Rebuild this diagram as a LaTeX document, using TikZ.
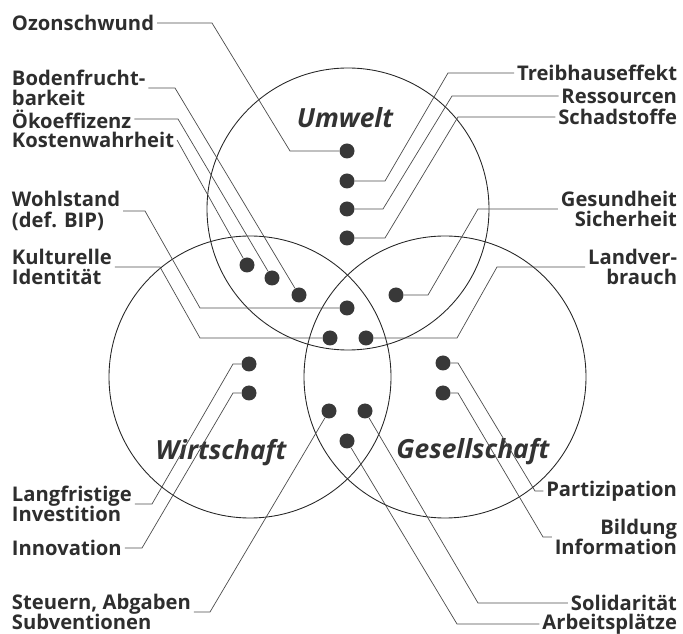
\documentclass[tikz,border=0pt]{standalone}
\usepackage{fontspec}
\setmainfont{Open Sans}

\begin{document}
\begin{tikzpicture}[x=0.02cm, y=-0.02cm,
    spot/.style={circle, fill=black!78, inner sep=0pt, minimum size=3mm},
    lab/.style={font=\bfseries\fontsize{11.5}{11.8}\selectfont, text=black!82, inner sep=1.5pt},
    labl/.style={lab, anchor=west, align=left},
    labr/.style={lab, anchor=east, align=right},
    field/.style={font=\bfseries\itshape\fontsize{15}{18}\selectfont, text=black!80},
    lead/.style={draw=black!70, line width=0.4pt},
    ring/.style={draw=black!85, line width=0.5pt}]
      \useasboundingbox (0,0) rectangle (683,634);

      \draw[ring] (348,209) circle[radius=141];
      \draw[ring] (250,377) circle[radius=141];
      \draw[ring] (445,377) circle[radius=141];

      \node[field] (tumw) at (345,118) {Umwelt};
      \node[field] (twirt) at (221,453) {Wirtschaft};
      \node[field] (tges) at (473,452) {Gesellschaft};

      \node[spot] (u1) at (347,151) {};
      \node[spot] (u2) at (347,181) {};
      \node[spot] (u3) at (347,209) {};
      \node[spot] (u4) at (347,238) {};
      \node[spot] (uw1) at (247,265) {};
      \node[spot] (uw2) at (272,278) {};
      \node[spot] (uw3) at (299,295) {};
      \node[spot] (ug) at (396,295) {};
      \node[spot] (c1) at (347,308) {};
      \node[spot] (c2) at (330,338) {};
      \node[spot] (c3) at (366,338) {};
      \node[spot] (w1) at (249,364) {};
      \node[spot] (w2) at (249,393) {};
      \node[spot] (g1) at (443,363) {};
      \node[spot] (g2) at (443,393) {};
      \node[spot] (b1) at (329,411) {};
      \node[spot] (b2) at (365,411) {};
      \node[spot] (b3) at (347,441) {};

      \node[labl] (ozon) at (9,23) {Ozonschwund};
      \node[labl] (boden) at (9,88) {Bodenfrucht-\\barkeit};
      \node[labl] (oeko) at (9,119) {Ökoeffizenz};
      \node[labl] (kosten) at (9,140) {Kostenwahrheit};
      \node[labl] (wohl) at (9,211) {Wohlstand\\(def. BIP)};
      \node[labl] (kultur) at (9,267) {Kulturelle\\Identität};
      \node[labl] (lang) at (9,504) {Langfristige\\Investition};
      \node[labl] (innov) at (9,548) {Innovation};
      \node[labl] (steuer) at (9,612) {Steuern, Abgaben\\Subventionen};

      \node[labr] (treib) at (680,73) {Treibhauseffekt};
      \node[labr] (ress) at (680,96) {Ressourcen};
      \node[labr] (schad) at (680,117) {Schadstoffe};
      \node[labr] (gesund) at (680,209) {Gesundheit\\Sicherheit};
      \node[labr] (land) at (680,267) {Landver-\\brauch};
      \node[labr] (partiz) at (680,491) {Partizipation};
      \node[labr] (bildung) at (680,537) {Bildung\\Information};
      \node[labr] (solid) at (680,603) {Solidarität};
      \node[labr] (arbeit) at (680,624) {Arbeitsplätze};

      \draw[lead] (ozon.east) -- (212,23) -- (290,151) -- (u1);
      \draw[lead] (boden.east) -- (175,88) -- (uw3);
      \draw[lead] (oeko.east) -- (178,119) -- (uw2);
      \draw[lead] (kosten.east) -- (uw1);
      \draw[lead] (wohl.east) -- (145,211) -- (200,308) -- (c1);
      \draw[lead] (kultur.east) -- (160,267) -- (200,338) -- (c2);
      \draw[lead] (lang.east) -- (152,504) -- (233,364) -- (w1);
      \draw[lead] (innov.east) -- (142,548) -- (233,393) -- (w2);
      \draw[lead] (steuer.east) -- (210,612) -- (b1);

      \draw[lead] (treib.west) -- (448,73) -- (385,181) -- (u2);
      \draw[lead] (ress.west) -- (452,96) -- (383,209) -- (u3);
      \draw[lead] (schad.west) -- (458,117) -- (385,238) -- (u4);
      \draw[lead] (gesund.west) -- (478,209) -- (428,295) -- (ug);
      \draw[lead] (land.west) -- (497,267) -- (457,338) -- (c3);
      \draw[lead] (partiz.west) -- (535,491) -- (458,363) -- (g1);
      \draw[lead] (bildung.west) -- (543,537) -- (458,393) -- (g2);
      \draw[lead] (solid.west) -- (478,603) -- (b2);
      \draw[lead] (arbeit.west) -- (457,624) -- (b3);
    \end{tikzpicture}
\end{document}
